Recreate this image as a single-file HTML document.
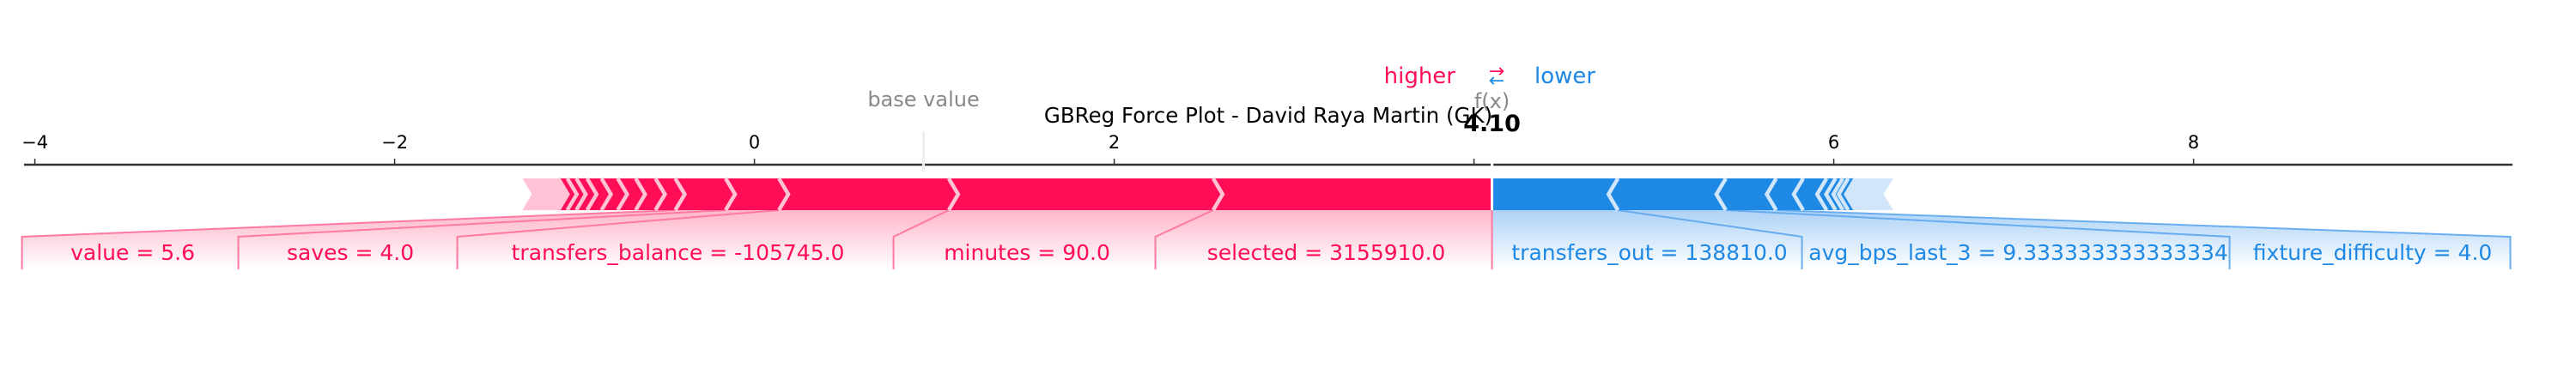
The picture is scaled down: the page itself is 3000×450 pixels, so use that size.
<!DOCTYPE html>
<html><head><meta charset="utf-8"><style>
html,body{margin:0;padding:0;background:#fff;}
svg{display:block;font-family:"DejaVu Sans","Liberation Sans",sans-serif;}
</style></head><body>
<svg id="chart" width="3000" height="450" viewBox="0 0 3000 450">
<defs>
<linearGradient id="gRed" x1="0" y1="0" x2="0" y2="1"><stop offset="0" stop-color="#ff7aa0" stop-opacity="0.55"/><stop offset="1" stop-color="#ff7aa0" stop-opacity="0"/></linearGradient>
<linearGradient id="gBlue" x1="0" y1="0" x2="0" y2="1"><stop offset="0" stop-color="#5aa5ee" stop-opacity="0.5"/><stop offset="1" stop-color="#5aa5ee" stop-opacity="0"/></linearGradient>
</defs>
</svg>
<script>
const baseValue = 0.94;
const fx = 4.10;
const ticks = [-4,-2,0,2,4,6,8];
const tickLabels = ["\u22124","\u22122","0","2","4","6","8"];
// positive (red) contributions, ordered from f(x) leftwards
const redVals = [1.55,1.47,0.944,0.296,0.28,0.11,0.11,0.10,0.09,0.08,0.06,0.05,0.05,0.20];
const redNames = ["selected = 3155910.0","minutes = 90.0","transfers_balance = -105745.0","saves = 4.0","value = 5.6","","","","","","","","",""];
// negative (blue) contributions, ordered from f(x) rightwards
const blueVals = [0.70,0.60,0.28,0.15,0.13,0.05,0.04,0.03,0.04,0.21];
const blueNames = ["transfers_out = 138810.0","avg_bps_last_3 = 9.333333333333334","fixture_difficulty = 4.0","","","","","","",""];

const svg = document.getElementById('chart');
const NS = 'http://www.w3.org/2000/svg';
const X = v => 878.6 + 209.5*v;
const axisY = 192, barTop = 208, barBot = 245, mid = (barTop+barBot)/2, boxTop = 276, boxBot = 314, d = 11;
function mk(tag, attrs, parent){const e=document.createElementNS(NS,tag);for(const k in attrs)e.setAttribute(k,attrs[k]);(parent||svg).appendChild(e);return e;}

const axis = mk('line',{x1:28,x2:2926,y1:axisY,y2:axisY,stroke:'#333',"stroke-width":2.5});


ticks.forEach((t,i)=>{
  const x=X(t);
  const tk=mk('line',{x1:x,x2:x,y1:axisY-7,y2:axisY,stroke:'#333',"stroke-width":1.5});
  
  
  if(t===4) return;
  const tl=mk('text',{x:x,y:173,"text-anchor":"middle","font-size":21,fill:'#000'});
  tl.textContent=tickLabels[i];
  
  
});
const bl=mk('line',{x1:X(baseValue),x2:X(baseValue),y1:153,y2:200,stroke:'#eee',"stroke-width":3});


const bt=mk('text',{x:X(baseValue),y:124,"text-anchor":"middle","font-size":24,fill:'#888'});
bt.textContent='base value';



let cur = fx; const redB=[fx];
redVals.forEach(v=>{cur-=v;redB.push(cur);});
let cur2 = fx; const blueB=[fx];
blueVals.forEach(v=>{cur2+=v;blueB.push(cur2);});

const redLabeled = redNames.filter(n=>n).length;
const redBoxes=[]; let right=X(fx);
const redWidths=[392,305,508,255,252];
for(let i=0;i<redLabeled;i++){redBoxes.push([right-redWidths[i],right]);right-=redWidths[i];}
const blueBoxes=[]; let left=X(fx);
const blueWidths=[361,498,327];
for(let i=0;i<blueNames.filter(n=>n).length;i++){blueBoxes.push([left,left+blueWidths[i]]);left+=blueWidths[i];}

redBoxes.forEach((b,i)=>{
  const sL=X(redB[i+1]), sR=X(redB[i]);
  const p=mk('polygon',{points:`${sL},${barBot} ${sR},${barBot} ${b[1]},${boxTop} ${b[1]},${boxBot} ${b[0]},${boxBot} ${b[0]},${boxTop}`,fill:'url(#gRed)'});
  
  
  const l=mk('polyline',{points:`${sL},${barBot} ${b[0]},${boxTop} ${b[0]},${boxBot}`,fill:'none',stroke:'#ff7aa0',"stroke-width":2});
  
  
  const t=mk('text',{x:(b[0]+b[1])/2+3,y:303,"text-anchor":"middle","font-size":25,fill:'#ff0d57'});
  t.textContent=redNames[i];
  
  
});
blueBoxes.forEach((b,i)=>{
  const sL=X(blueB[i]), sR=X(blueB[i+1]);
  const p=mk('polygon',{points:`${sL},${barBot} ${sR},${barBot} ${b[1]},${boxTop} ${b[1]},${boxBot} ${b[0]},${boxBot} ${b[0]},${boxTop}`,fill:'url(#gBlue)'});
  
  
  const l=mk('polyline',{points:`${sR},${barBot} ${b[1]},${boxTop} ${b[1]},${boxBot}`,fill:'none',stroke:'#6aaef0',"stroke-width":2});
  
  
  const t=mk('text',{x:(b[0]+b[1])/2+3,y:303,"text-anchor":"middle","font-size":25,fill:'#1e88e5'});
  t.textContent=blueNames[i];
  
  
});
const fl=mk('line',{x1:X(fx),x2:X(fx),y1:barBot,y2:boxBot,stroke:'#ff7aa0',"stroke-width":2});



redVals.forEach((v,i)=>{
  const x1=X(redB[i]), x0=X(redB[i+1]);
  const tail = i===redVals.length-1;
  const pts = i===0 ? `${x0},${barTop} ${x1},${barTop} ${x1},${barBot} ${x0},${barBot} ${x0+d},${mid}`
                    : `${x0},${barTop} ${x1},${barTop} ${x1+d},${mid} ${x1},${barBot} ${x0},${barBot} ${x0+d},${mid}`;
  const p=mk('polygon',{points:pts,fill: tail?'#ffc3d5':'#ff0d57'});
  
  
  if(i>0){
    const s=mk('polyline',{points:`${x1},${barTop} ${x1+d},${mid} ${x1},${barBot}`,fill:'none',stroke:'#ffc3d5',"stroke-width":4.5});
    
    
  }
});
blueVals.forEach((v,i)=>{
  const x0=X(blueB[i]), x1=X(blueB[i+1]);
  const tail = i===blueVals.length-1;
  const pts = i===0 ? `${x0},${barTop} ${x1},${barTop} ${x1-d},${mid} ${x1},${barBot} ${x0},${barBot}`
                    : `${x0},${barTop} ${x1},${barTop} ${x1-d},${mid} ${x1},${barBot} ${x0},${barBot} ${x0-d},${mid}`;
  const p=mk('polygon',{points:pts,fill: tail?'#d1e6fa':'#1e88e5'});
  
  
  if(i>0){
    const s=mk('polyline',{points:`${x0},${barTop} ${x0-d},${mid} ${x0},${barBot}`,fill:'none',stroke:'#d1e6fa',"stroke-width":4.5});
    
    
  }
});
const fxl=mk('line',{x1:X(fx),x2:X(fx),y1:175,y2:barBot,stroke:'#fff',"stroke-width":3});



function txt(name,x,y,s,attrs){const t=mk('text',Object.assign({x:x,y:y},attrs));t.textContent=s;return t;}
txt('fx-label',X(fx),126,'f(x)',{"text-anchor":"middle","font-size":24,fill:'#888'});
txt('fx-value',X(fx),153,fx.toFixed(2),{"text-anchor":"middle","font-size":27,"font-weight":"bold",fill:'#000'});
txt('chart-title',1477,143,'GBReg Force Plot - David Raya Martin (GK)',{"text-anchor":"middle","font-size":24.5,fill:'#000'});
txt('legend-higher',1695,97,'higher',{"text-anchor":"end","font-size":26,fill:'#ff0d57'});
txt('legend-arrow-top',1743,90,'\u2192',{"text-anchor":"middle","font-size":22,fill:'#ff0d57'});
txt('legend-arrow-bottom',1743,101,'\u2190',{"text-anchor":"middle","font-size":22,fill:'#1e88e5'});
txt('legend-lower',1787,97,'lower',{"text-anchor":"start","font-size":26,fill:'#1e88e5'});
</script>
</body></html>
